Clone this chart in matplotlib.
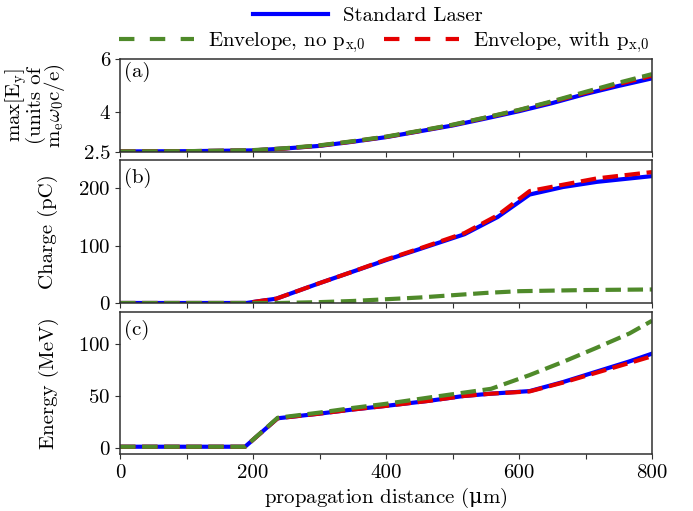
import matplotlib
matplotlib.use("Agg")
import matplotlib.pyplot as plt
from matplotlib.lines import Line2D

plt.rcParams['font.family'] = ['cmr10', 'DejaVu Serif']
plt.rcParams['mathtext.fontset'] = 'cm'
plt.rcParams['axes.formatter.use_mathtext'] = True
plt.rcParams['axes.unicode_minus'] = False
plt.rcParams['font.size'] = 15

# colours
cBlue = '#0000ff'
cRed = '#e50000'
cGreen = '#4f8a2a'

# (a) max field, units of m_e w0 c / e
xA = [0, 100, 200, 247, 300, 348, 400, 448, 500, 549, 600, 649, 700, 749, 800]
fieldStd = [2.51, 2.52, 2.55, 2.62, 2.72, 2.87, 3.05, 3.26, 3.49, 3.75, 4.03, 4.33, 4.68, 4.98, 5.27]
fieldWith = [2.51, 2.52, 2.55, 2.62, 2.73, 2.88, 3.06, 3.27, 3.51, 3.78, 4.07, 4.38, 4.73, 5.05, 5.37]
fieldNo = [2.51, 2.52, 2.56, 2.63, 2.74, 2.89, 3.07, 3.28, 3.52, 3.79, 4.08, 4.40, 4.76, 5.10, 5.43]

# (b) charge (pC)
xB = [0, 190, 235, 300, 350, 400, 450, 518, 568, 616, 666, 717, 800]
chargeStd = [0.5, 0.5, 8, 35, 55, 75, 94, 120, 150, 189, 202, 211, 221]
chargeWith = [0.5, 0.5, 8, 35, 55, 76, 95, 122, 153, 195, 206, 217, 228]
xBno = [0, 240, 300, 350, 400, 450, 500, 550, 600, 650, 700, 800]
chargeNo = [0.5, 0.5, 2, 4, 7, 10, 14, 18, 21, 22, 23, 24]

# (c) energy (MeV)
xC = [0, 188, 237, 300, 350, 400, 466, 516, 558, 616, 666, 716, 766, 800]
energyStd = [1, 1, 28.5, 33, 37, 40.5, 45.5, 50, 52.3, 54.8, 63.5, 73.5, 83.5, 91]
energyWith = [1, 1, 28.5, 33, 37, 40.5, 45.5, 50, 52.3, 54.5, 63, 72.5, 82, 88.5]
energyNo = [1, 1, 29, 34, 38.5, 42.5, 48.7, 53.2, 57, 70.3, 83, 96.5, 110.5, 122.8]

labels = ['Standard Laser', r'Envelope, no $\mathrm{p_{x{,}0}}$', r'Envelope, with $\mathrm{p_{x{,}0}}$']

fig = plt.figure(figsize=(6.93, 5.11), dpi=100)
left, width = 0.1732, 0.7677
axA = fig.add_axes([left, 0.7031, width, 0.1814])
axB = fig.add_axes([left, 0.4065, width, 0.2804])
axC = fig.add_axes([left, 0.1106, width, 0.2783])

lw = 3
def draw(ax, xs, std, wth, xno, no):
    ax.plot(xs, std, color=cBlue, lw=lw, linestyle='-')
    ax.plot(xs, wth, color=cRed, lw=lw, linestyle='--')
    ax.plot(xno, no, color=cGreen, lw=lw, linestyle='--')

draw(axA, xA, fieldStd, fieldWith, xA, fieldNo)
draw(axB, xB, chargeStd, chargeWith, xBno, chargeNo)
draw(axC, xC, energyStd, energyWith, xC, energyNo)

xt = list(range(0, 801, 100))
for ax in (axA, axB, axC):
    ax.set_xlim(0, 800)
    ax.set_xticks(xt)
    for s in ax.spines.values():
        s.set_color('#303030')
        s.set_linewidth(1.1)
    ax.tick_params(labelsize=15, color='#303030')
axA.set_xticklabels([])
axB.set_xticklabels([])
axC.set_xticklabels([str(v) if v % 200 == 0 else '' for v in xt])

axA.set_ylim(2.5, 6)
axA.set_yticks([2.5, 4, 6])
axA.set_yticklabels(['2.5', '4', '6'])
axB.set_ylim(0, 249)
axB.set_yticks([0, 100, 200])
axC.set_ylim(-6.5, 131)
axC.set_yticks([0, 50, 100])

axA.text(0.008, 0.965, '(a)', transform=axA.transAxes, va='top', ha='left', fontsize=15)
axB.text(0.008, 0.945, '(b)', transform=axB.transAxes, va='top', ha='left', fontsize=15)
axC.text(0.008, 0.945, '(c)', transform=axC.transAxes, va='top', ha='left', fontsize=15)

axA.set_ylabel('max[$\\mathrm{E_y}$]\n(units of\n$\\mathrm{m_e}\\omega_\\mathrm{0}\\mathrm{c/e)}$',
               fontsize=15, linespacing=0.8)
axB.set_ylabel('Charge (pC)', fontsize=15)
axC.set_ylabel('Energy (MeV)', fontsize=15)
axA.yaxis.set_label_coords(-0.1, 0.5)
axB.yaxis.set_label_coords(-0.117, 0.5)
axC.yaxis.set_label_coords(-0.115, 0.5)
axC.set_xlabel(r'propagation distance ($\mathrm{\mu}$m)', fontsize=15, labelpad=3,
               math_fontfamily='dejavuserif')

hStd = Line2D([], [], color=cBlue, lw=lw)
hNo = Line2D([], [], color=cGreen, lw=lw, dashes=(3.7, 3.7))
hWith = Line2D([], [], color=cRed, lw=lw, dashes=(3.7, 3.7))
fig.legend([hStd], [labels[0]], loc='center', bbox_to_anchor=(368 / 693, 1 - 16 / 511),
           frameon=False, fontsize=15, handlelength=3.6, handletextpad=0.7,
           borderpad=0, borderaxespad=0)
fig.legend([hNo, hWith], labels[1:], loc='center', bbox_to_anchor=(384 / 693, 1 - 43 / 511),
           ncol=2, frameon=False, fontsize=15, handlelength=3.6, handletextpad=0.7,
           columnspacing=0.85, borderpad=0, borderaxespad=0)

plt.savefig('out.png', dpi=100)
